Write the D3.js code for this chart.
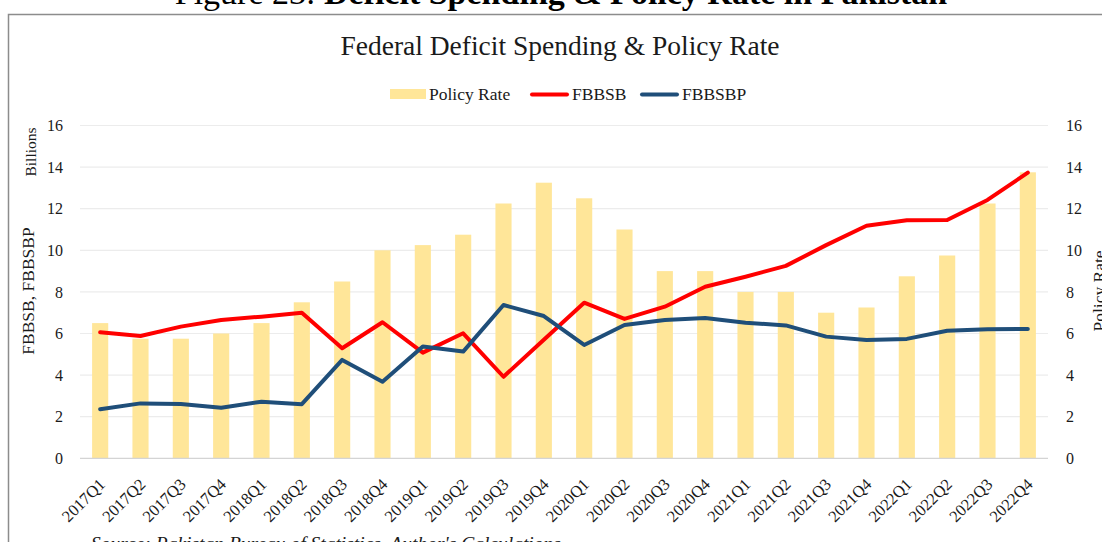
<!DOCTYPE html>
<html>
<head>
<meta charset="utf-8">
<script src="https://cdn.jsdelivr.net/npm/d3@7/dist/d3.min.js"></script>
<style>
  html, body { margin: 0; padding: 0; background: #fff; overflow: hidden; }
  svg { display: block; }
  svg text { font-family: "Liberation Serif", "DejaVu Serif", serif; }
</style>
</head>
<body>
<svg id="chart" width="1102" height="542"></svg>
<script>
// Quarterly categories
const quarters = [
  "2017Q1","2017Q2","2017Q3","2017Q4",
  "2018Q1","2018Q2","2018Q3","2018Q4",
  "2019Q1","2019Q2","2019Q3","2019Q4",
  "2020Q1","2020Q2","2020Q3","2020Q4",
  "2021Q1","2021Q2","2021Q3","2021Q4",
  "2022Q1","2022Q2","2022Q3","2022Q4"
];

// State Bank policy rate, % (right axis)
const policyRate = [
  6.5, 5.75, 5.75, 6.0,
  6.5, 7.5, 8.5, 10.0,
  10.25, 10.75, 12.25, 13.25,
  12.5, 11.0, 9.0, 9.0,
  8.0, 8.0, 7.0, 7.25,
  8.75, 9.75, 12.25, 13.75
];

// FBBSB, billions (left axis)
const fbbsb = [
  6.06, 5.88, 6.33, 6.65,
  6.81, 7.0, 5.29, 6.54,
  5.08, 6.01, 3.92, 5.7,
  7.48, 6.7, 7.29, 8.25,
  8.73, 9.25, 10.25, 11.18,
  11.44, 11.46, 12.42, 13.73
];

// FBBSBP, billions (left axis)
const fbbsbp = [
  2.36, 2.64, 2.61, 2.43,
  2.72, 2.6, 4.73, 3.68,
  5.37, 5.13, 7.37, 6.84,
  5.45, 6.41, 6.65, 6.75,
  6.52, 6.39, 5.85, 5.69,
  5.74, 6.13, 6.2, 6.22
];

const axisTicks = [0, 2, 4, 6, 8, 10, 12, 14, 16];

const svg = d3.select("#chart");
const W = 1102, H = 542;
const plot = { left: 80, right: 1048, top: 125.5, bottom: 458.3 };

const colors = { bar: "#FFE699", red: "#FF0000", blue: "#1F4E79", text: "#1a1a1a" };
const serif = '"Liberation Serif", "DejaVu Serif", serif';

svg.append("rect").attr("width", W).attr("height", H).attr("fill", "#fff");

// Figure caption (runs off the top of the page)
const cap = svg.append("text")
  .attr("x", 561).attr("y", 4)
  .attr("text-anchor", "middle")
  .attr("font-size", 34)
  .attr("fill", "#000");
cap.append("tspan").text("Figure 23: ");
cap.append("tspan").attr("font-weight", "bold").text("Deficit Spending & Policy Rate in Pakistan");

// Chart frame
svg.append("rect")
  .attr("x", 8.5).attr("y", 14.5)
  .attr("width", W + 20).attr("height", H + 20)
  .attr("fill", "none")
  .attr("stroke", "#8c8c8c")
  .attr("stroke-width", 1.5);

// Scales
const x = d3.scaleBand().domain(quarters).range([plot.left, plot.right]).padding(0);
const yLeft = d3.scaleLinear().domain([0, 16]).range([plot.bottom, plot.top]);
const yRight = d3.scaleLinear().domain([0, 16]).range([plot.bottom, plot.top]);
const cx = q => x(q) + x.bandwidth() / 2;

// Gridlines
svg.append("g")
  .selectAll("line")
  .data(axisTicks.filter(t => t > 0))
  .join("line")
  .attr("x1", plot.left).attr("x2", plot.right)
  .attr("y1", d => yLeft(d)).attr("y2", d => yLeft(d))
  .attr("stroke", "#ececec").attr("stroke-width", 1.2);

// Policy rate bars
const barW = x.bandwidth() * 0.4;
svg.append("g")
  .selectAll("rect")
  .data(quarters.map((q, i) => ({ q, v: policyRate[i] })))
  .join("rect")
  .attr("x", d => cx(d.q) - barW / 2)
  .attr("width", barW)
  .attr("y", d => yRight(d.v))
  .attr("height", d => yRight(0) - yRight(d.v))
  .attr("fill", colors.bar);

// Category axis line
svg.append("line")
  .attr("x1", plot.left).attr("x2", plot.right)
  .attr("y1", plot.bottom).attr("y2", plot.bottom)
  .attr("stroke", "#d4d4d4").attr("stroke-width", 1.2);

// Lines
const line = d3.line()
  .x((d, i) => cx(quarters[i]))
  .y(d => yLeft(d));

svg.append("path")
  .datum(fbbsb)
  .attr("d", line)
  .attr("fill", "none")
  .attr("stroke", colors.red)
  .attr("stroke-width", 4)
  .attr("stroke-linejoin", "round")
  .attr("stroke-linecap", "round");

svg.append("path")
  .datum(fbbsbp)
  .attr("d", line)
  .attr("fill", "none")
  .attr("stroke", colors.blue)
  .attr("stroke-width", 4)
  .attr("stroke-linejoin", "round")
  .attr("stroke-linecap", "round");

// Left value axis
const leftAxis = svg.append("g")
  .attr("transform", `translate(${plot.left - 17},0)`)
  .call(d3.axisLeft(yLeft).tickValues(axisTicks).tickSize(0).tickPadding(0));
leftAxis.select(".domain").remove();
leftAxis.attr("font-family", null);
leftAxis.selectAll("text")
  .attr("font-size", 16).attr("fill", colors.text)
  .style("font-family", serif);

// Right value axis
const rightAxis = svg.append("g")
  .attr("transform", `translate(${plot.right + 18},0)`)
  .call(d3.axisRight(yRight).tickValues(axisTicks).tickSize(0).tickPadding(0));
rightAxis.select(".domain").remove();
rightAxis.attr("font-family", null);
rightAxis.selectAll("text")
  .attr("font-size", 16).attr("fill", colors.text)
  .style("font-family", serif);

// Category labels, rotated
const bottomAxis = svg.append("g")
  .attr("transform", `translate(0,${plot.bottom})`)
  .call(d3.axisBottom(x).tickSize(0).tickPadding(0));
bottomAxis.select(".domain").remove();
bottomAxis.attr("font-family", null);
bottomAxis.selectAll("text")
  .attr("font-size", 16.5).attr("fill", colors.text)
  .style("font-family", serif)
  .attr("text-anchor", "end")
  .attr("dy", 0)
  .attr("transform", "translate(6,27) rotate(-45)");

// Axis titles
svg.append("text")
  .attr("transform", "translate(36,152) rotate(-90)")
  .attr("text-anchor", "middle")
  .attr("font-size", 15.5).attr("fill", colors.text)
  .text("Billions");

svg.append("text")
  .attr("transform", "translate(34,291) rotate(-90)")
  .attr("text-anchor", "middle")
  .attr("font-size", 17.5).attr("fill", colors.text)
  .text("FBBSB, FBBSBP");

svg.append("text")
  .attr("transform", "translate(1105,291) rotate(-90)")
  .attr("text-anchor", "middle")
  .attr("font-size", 17.5).attr("fill", colors.text)
  .text("Policy Rate");

// Chart title
svg.append("text")
  .attr("x", 560).attr("y", 55)
  .attr("text-anchor", "middle")
  .attr("font-size", 27.5).attr("fill", colors.text)
  .text("Federal Deficit Spending & Policy Rate");

// Legend
const legend = svg.append("g").attr("font-size", 17.5).attr("fill", colors.text);
legend.append("rect").attr("x", 390).attr("y", 89).attr("width", 36).attr("height", 10).attr("fill", colors.bar);
legend.append("text").attr("x", 429).attr("y", 100).text("Policy Rate");
legend.append("line").attr("x1", 532).attr("x2", 567).attr("y1", 94.5).attr("y2", 94.5)
  .attr("stroke", colors.red).attr("stroke-width", 4).attr("stroke-linecap", "round");
legend.append("text").attr("x", 572).attr("y", 100).text("FBBSB");
legend.append("line").attr("x1", 642).attr("x2", 677).attr("y1", 94.5).attr("y2", 94.5)
  .attr("stroke", colors.blue).attr("stroke-width", 4).attr("stroke-linecap", "round");
legend.append("text").attr("x", 682).attr("y", 100).text("FBBSBP");

// Source note (runs off the bottom of the page)
svg.append("text")
  .attr("x", 91).attr("y", 549.5)
  .attr("font-size", 19.5).attr("font-style", "italic").attr("fill", colors.text)
  .text("Source: Pakistan Bureau of Statistics, Author's Calculations");
</script>
</body>
</html>
